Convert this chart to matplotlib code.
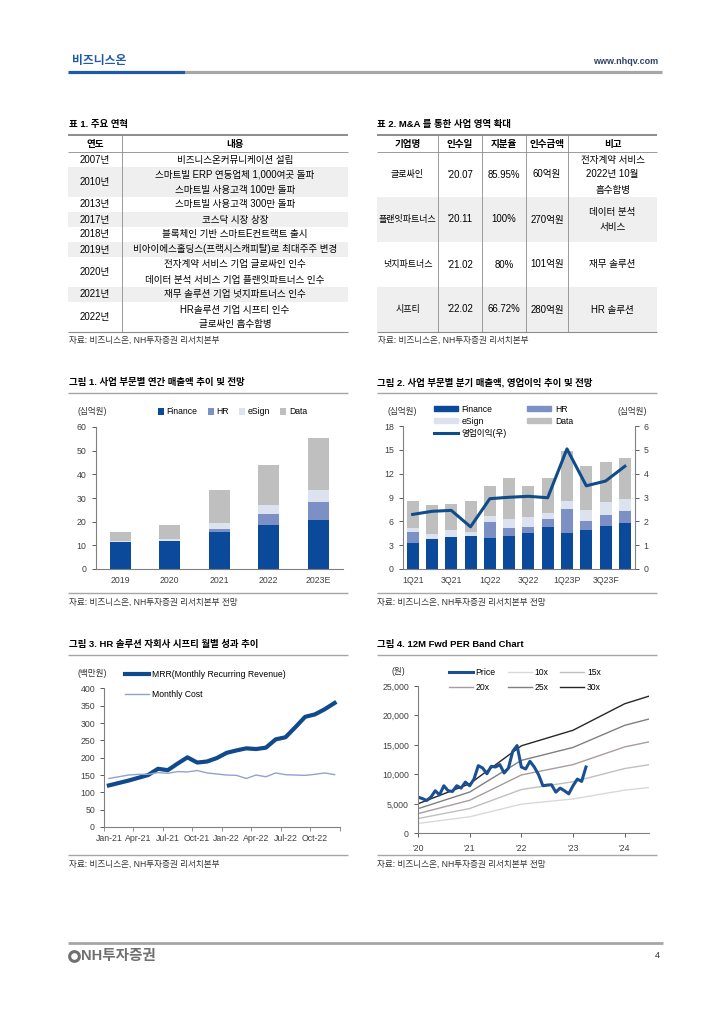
import numpy as np
import matplotlib
matplotlib.use('Agg')
import matplotlib.pyplot as plt
from matplotlib.patches import Rectangle, Patch
from matplotlib.lines import Line2D
from matplotlib.ticker import FuncFormatter

plt.rcParams['font.family'] = ['Liberation Sans', 'Noto Sans CJK KR']
plt.rcParams['axes.unicode_minus'] = False

W, H = 724, 1024

# ---- table 1: history ----
hist_years = ['2007년', '2010년', '2013년', '2017년', '2018년', '2019년', '2020년', '2021년', '2022년']
hist_events = ['비즈니스온커뮤니케이션 설립',
               '스마트빌 ERP 연동업체 1,000여곳 돌파\n스마트빌 사용고객 100만 돌파',
               '스마트빌 사용고객 300만 돌파',
               '코스닥 시장 상장',
               '블록체인 기반 스마트E컨트랙트 출시',
               '비아이에스홀딩스(프랙시스캐피탈)로 최대주주 변경',
               '전자계약 서비스 기업 글로싸인 인수\n데이터 분석 서비스 기업 플랜잇파트너스 인수',
               '재무 솔루션 기업 넛지파트너스 인수',
               'HR솔루션 기업 시프티 인수\n글로싸인 흡수합병']

# ---- table 2: M&A ----
ma_cols = ['기업명', '인수일', '지분율', '인수금액', '비고']
ma_company = ['글로싸인', '플랜잇파트너스', '넛지파트너스', '시프티']
ma_date = ["'20.07", "'20.11", "'21.02", "'22.02"]
ma_share = ['85.95%', '100%', '80%', '66.72%']
ma_price = ['60억원', '270억원', '101억원', '280억원']
ma_note = ['전자계약 서비스\n2022년 10월\n흡수합병', '데이터 분석\n서비스', '재무 솔루션', 'HR 솔루션']

# ---- fig 1: annual sales by segment (십억원) ----
yr_labels = ['2019', '2020', '2021', '2022', '2023E']
yr_finance = [11.2, 11.9, 15.8, 18.4, 20.9]
yr_hr = [0.0, 0.0, 1.2, 4.7, 7.3]
yr_esign = [0.5, 0.9, 2.5, 4.0, 5.2]
yr_data = [3.9, 5.7, 14.0, 16.8, 22.1]

# ---- fig 2: quarterly sales and operating profit ----
q_labels = ['1Q21', '2Q21', '3Q21', '4Q21', '1Q22', '2Q22', '3Q22', '4Q22',
            '1Q23P', '2Q23F', '3Q23F', '4Q23F']
q_finance = [3.3, 3.8, 4.0, 4.2, 3.9, 4.2, 4.5, 5.3, 4.5, 4.9, 5.4, 5.8]
q_hr = [1.4, 0.0, 0.0, 0.0, 2.0, 0.9, 0.8, 1.0, 3.1, 1.2, 1.4, 1.5]
q_esign = [0.4, 0.6, 0.9, 0.5, 0.8, 1.2, 1.2, 0.8, 0.9, 1.3, 1.6, 1.5]
q_data = [3.5, 3.6, 3.3, 3.8, 3.8, 5.1, 3.9, 4.3, 6.4, 5.6, 5.1, 5.2]
q_op = [2.29, 2.42, 2.46, 1.77, 2.95, 3.01, 3.05, 2.99, 5.04, 3.49, 3.69, 4.31]

# ---- fig 3: Shiftee monthly MRR / cost (백만원) ----
m_labels = ['Jan-21', 'Feb-21', 'Mar-21', 'Apr-21', 'May-21', 'Jun-21', 'Jul-21', 'Aug-21',
            'Sep-21', 'Oct-21', 'Nov-21', 'Dec-21', 'Jan-22', 'Feb-22', 'Mar-22', 'Apr-22',
            'May-22', 'Jun-22', 'Jul-22', 'Aug-22', 'Sep-22', 'Oct-22', 'Nov-22', 'Dec-22']
mrr = [120, 127, 134, 142, 150, 168, 164, 183, 201, 186, 189, 199,
       214, 221, 227, 225, 229, 253, 259, 288, 318, 325, 340, 358]
m_cost = [140, 145, 150, 152, 152, 157, 155, 160, 159, 163, 156, 153,
          150, 149, 140, 150, 145, 156, 151, 150, 149, 152, 156, 151]

# ---- fig 4: 12M fwd PER band (원) ----
price = [6140, 5900, 5570, 6140, 7220, 6530, 8070, 7220, 7100, 8070, 7670, 8690,
         8070, 9200, 11480, 11080, 10110, 11360, 11250, 11650, 10230, 11080, 13920, 14890,
         11250, 10910, 12220, 11250, 9940, 8070, 8180, 8240, 6990, 7670, 7220, 6700,
         8070, 9200, 8810, 11250]
band_x = [2020.0, 2021.0, 2022.0, 2023.0, 2024.0, 2024.46]
band_eps = [167, 280, 495, 583, 733, 775]
band_mult = [10, 15, 20, 25, 30]
year_labels = ["'20", "'21", "'22", "'23", "'24"]

c_fin = '#0b4a9b'
c_hr = '#7c90c6'
c_esign = '#dde3ee'
c_data = '#bfbfbf'
c_line = '#8c8c8c'
c_tick = '#404040'

fig = plt.figure(figsize=(7.24, 10.24), dpi=100)
page = fig.add_axes([0, 0, 1, 1])
page.set_xlim(0, W)
page.set_ylim(H, 0)
page.axis('off')


def px_axes(l, t, r, b):
    return fig.add_axes([l / W, 1 - b / H, (r - l) / W, (b - t) / H])


def hline(y, x0, x1, lw=0.8, color=c_line):
    page.plot([x0, x1], [y, y], color=color, lw=lw, solid_capstyle='butt')


def style_ax(ax):
    for s in ['top', 'right']:
        ax.spines[s].set_visible(False)
    for s in ['left', 'bottom']:
        ax.spines[s].set_color('#808080')
        ax.spines[s].set_linewidth(0.8)
    ax.tick_params(labelsize=6.3, colors=c_tick, length=3, width=0.6)
    ax.set_facecolor('none')


# header
page.text(72, 61, '비즈니스온', color='#1f5aa6', fontsize=8.5, fontweight='bold', va='center')
hline(71.5, 68, 185, lw=2.3, color='#1f5aa6')
hline(71.5, 185, 662, lw=2.3, color='#a6a6a6')
page.text(658, 61, 'www.nhqv.com', ha='right', va='center', fontsize=6.5,
          fontweight='bold', color='#2d4466')

# footer
hline(943, 68, 663, lw=2, color='#a6a6a6')
page.plot(74, 956, marker='o', ms=7, mfc='none', mec='#707070', mew=2.2)
page.text(81, 956, 'NH투자증권', fontsize=10.5, fontweight='bold', color='#707070', va='center')
page.text(655, 956, '4', fontsize=6.5, va='center', color='#333333')

tfs = 6.9
sfs = 6.2
src = '자료: 비즈니스온, NH투자증권 리서치본부'

# table 1
page.text(69, 124, '표 1. 주요 연혁', fontsize=6.8, fontweight='bold', va='center')
page.text(95, 143.5, '연도', fontsize=tfs, fontweight='bold', ha='center', va='center')
page.text(235, 143.5, '내용', fontsize=tfs, fontweight='bold', ha='center', va='center')
y = 152
for i, (yr, ev) in enumerate(zip(hist_years, hist_events)):
    lines = ev.split('\n')
    h = 15 * len(lines)
    if i % 2 == 1:
        page.add_patch(Rectangle((68, y), 280, h, color='#efefef', lw=0))
    page.text(95, y + h / 2, yr, fontsize=tfs, ha='center', va='center')
    for k, ln in enumerate(lines):
        page.text(235, y + 7.5 + 15 * k, ln, fontsize=tfs, ha='center', va='center')
    y += h
hline(135, 68, 348, lw=1.4)
hline(152, 68, 348, lw=0.6)
hline(y, 68, 348, lw=0.8)
page.plot([122, 122], [135, y], color=c_line, lw=0.6)
page.text(69, 340, src, fontsize=sfs, va='center', color='#333333')

# table 2
page.text(377, 124, '표 2. M&A 를 통한 사업 영역 확대', fontsize=6.8, fontweight='bold', va='center')
col_x = [377, 438, 482, 526, 568, 657]
col_c = [(a + b) / 2 for a, b in zip(col_x[:-1], col_x[1:])]
for c, name in zip(col_c, ma_cols):
    page.text(c, 143.5, name, fontsize=tfs, fontweight='bold', ha='center', va='center')
y = 152
for i in range(len(ma_company)):
    h = 45
    if i % 2 == 1:
        page.add_patch(Rectangle((377, y), 280, h, color='#efefef', lw=0))
    vals = [ma_company[i], ma_date[i], ma_share[i], ma_price[i]]
    for j, (c, v) in enumerate(zip(col_c, vals)):
        page.text(c, y + h / 2, v, fontsize=6.5 if j == 0 else tfs, ha='center', va='center')
    lines = ma_note[i].split('\n')
    y0 = y + h / 2 - 7.5 * (len(lines) - 1)
    for k, ln in enumerate(lines):
        page.text(col_c[4], y0 + 15 * k, ln, fontsize=tfs, ha='center', va='center')
    y += h
hline(135, 377, 657, lw=1.4)
hline(152, 377, 657, lw=0.6)
hline(y, 377, 657, lw=0.8)
for xv in col_x[1:-1]:
    page.plot([xv, xv], [135, y], color=c_line, lw=0.6)
page.text(378, 340, src, fontsize=sfs, va='center', color='#333333')

# chart titles and frames
titles = [(69, 383, 393, 593, 602, '그림 1. 사업 부문별 연간 매출액 추이 및 전망', src + ' 전망', 68, 348),
          (377, 383, 393, 593, 602, '그림 2. 사업 부문별 분기 매출액, 영업이익 추이 및 전망', src + ' 전망', 377, 657),
          (69, 644, 655, 855, 864, '그림 3. HR 솔루션 자회사 시프티 월별 성과 추이', src, 68, 348),
          (377, 644, 655, 855, 864, '그림 4. 12M Fwd PER Band Chart', src + ' 전망', 377, 657)]
for tx, ty, ly, by, sy, t, s, x0, x1 in titles:
    page.text(tx, ty, t, fontsize=6.8, fontweight='bold', va='center')
    hline(ly, x0, x1, lw=1.0, color='#a6a6a6')
    hline(by, x0, x1, lw=1.0, color='#a6a6a6')
    page.text(tx, sy, s, fontsize=sfs, va='center', color='#333333')

# ---- chart 1 ----
ax1 = px_axes(95.6, 427, 343, 569)
x = np.arange(len(yr_labels))
b = np.zeros(len(x))
for vals, col, lab in [(yr_finance, c_fin, 'Finance'), (yr_hr, c_hr, 'HR'),
                       (yr_esign, c_esign, 'eSign'), (yr_data, c_data, 'Data')]:
    ax1.bar(x, vals, 0.42, bottom=b, color=col, label=lab, lw=0)
    b += np.array(vals)
ax1.set_xlim(-0.5, 4.5)
ax1.set_ylim(0, 60)
ax1.set_yticks(range(0, 61, 10))
ax1.set_xticks(x)
ax1.set_xticklabels(yr_labels)
style_ax(ax1)
ax1.tick_params(axis='x', length=0, pad=5)
ax1.legend(ncol=4, loc='center left', bbox_to_anchor=(150 / W, 1 - 412 / H),
           bbox_transform=fig.transFigure, frameon=False, fontsize=6.2,
           handlelength=0.7, handleheight=0.7, handletextpad=0.3, columnspacing=1.2)
page.text(78, 412, '(십억원)', fontsize=6.2, va='center', color='#333333')

# ---- chart 2 ----
ax2 = px_axes(403, 426, 634.5, 569)
x = np.arange(len(q_labels))
b = np.zeros(len(x))
for vals, col in [(q_finance, c_fin), (q_hr, c_hr), (q_esign, c_esign), (q_data, c_data)]:
    ax2.bar(x, vals, 0.62, bottom=b, color=col, lw=0)
    b += np.array(vals)
ax2.set_xlim(-0.5, len(x) - 0.5)
ax2.set_ylim(0, 18)
ax2.set_yticks(range(0, 19, 3))
ax2.set_xticks(x[::2])
ax2.set_xticklabels(q_labels[::2])
style_ax(ax2)
ax2.tick_params(axis='x', length=0, pad=5)
ax2r = ax2.twinx()
ax2r.plot(x, q_op, color='#0f4c8c', lw=2.2)
ax2r.set_ylim(0, 6)
ax2r.set_yticks(range(0, 7))
ax2r.spines['top'].set_visible(False)
ax2r.spines['left'].set_visible(False)
ax2r.spines['bottom'].set_visible(False)
ax2r.spines['right'].set_color('#808080')
ax2r.spines['right'].set_linewidth(0.8)
ax2r.tick_params(labelsize=6.3, colors=c_tick, length=3, width=0.6)
h2 = [Patch(color=c_fin), Patch(color=c_esign), Line2D([], [], color='#0f4c8c', lw=2.2),
      Patch(color=c_hr), Patch(color=c_data)]
l2 = ['Finance', 'eSign', '영업이익(우)', 'HR', 'Data']
ax2.legend(h2, l2, ncol=2, loc='upper left', bbox_to_anchor=(426 / W, 1 - 397 / H),
           bbox_transform=fig.transFigure, frameon=False, fontsize=6.2,
           handlelength=2.8, handleheight=0.5, handletextpad=0.4, columnspacing=2.4,
           labelspacing=0.35)
page.text(387, 411, '(십억원)', fontsize=6.2, va='center', color='#333333')
page.text(647, 411, '(십억원)', fontsize=6.2, va='center', ha='right', color='#333333')

# ---- chart 3 ----
ax3 = px_axes(104, 688.4, 339.5, 827)
x = np.arange(len(m_labels))
ax3.plot(x, mrr, color='#104a8c', lw=3, label='MRR(Monthly Recurring Revenue)')
ax3.plot(x, m_cost, color='#8fa3cc', lw=1, label='Monthly Cost')
ax3.set_xlim(-0.5, len(x) - 0.5)
ax3.set_ylim(0, 400)
ax3.set_yticks(range(0, 401, 50))
ax3.set_xticks(x[::3])
ax3.set_xticklabels(m_labels[::3])
ax3.set_xticks(np.arange(-0.5, len(x), 3), minor=True)
style_ax(ax3)
ax3.tick_params(axis='x', which='major', length=0, pad=5)
ax3.tick_params(axis='x', which='minor', length=3, width=0.6, colors='#808080')
ax3.legend(loc='upper left', bbox_to_anchor=(117 / W, 1 - 662 / H),
           bbox_transform=fig.transFigure, frameon=False, fontsize=6.2,
           handlelength=2.8, handletextpad=0.4, labelspacing=1.3)
page.text(78, 673, '(백만원)', fontsize=6.2, va='center', color='#333333')

# ---- chart 4 ----
ax4 = px_axes(418, 686, 648.5, 833.3)
px = 2020 + np.arange(len(price)) / 12
band_cols = ['#d9d9d9', '#bfbfbf', '#a89c9c', '#7f7f7f', '#262626']
bl = {}
for m, col in zip(band_mult, band_cols):
    bl[m], = ax4.plot(band_x, np.array(band_eps) * m, color=col, lw=1.0, label=f'{m}x')
pl, = ax4.plot(px, price, color='#1b4f93', lw=2.2, label='Price')
ax4.set_xlim(2020, 2024.46)
ax4.set_ylim(0, 25000)
ax4.set_yticks(range(0, 25001, 5000))
ax4.yaxis.set_major_formatter(FuncFormatter(lambda v, p: f'{int(v):,}'))
ax4.set_xticks([2020, 2021, 2022, 2023, 2024])
ax4.set_xticklabels(year_labels)
style_ax(ax4)
ax4.tick_params(axis='x', pad=5)
ax4.legend([pl, bl[20], bl[10], bl[25], bl[15], bl[30]],
           ['Price', '20x', '10x', '25x', '15x', '30x'], ncol=3, loc='upper left',
           bbox_to_anchor=(441 / W, 1 - 660 / H), bbox_transform=fig.transFigure,
           frameon=False, fontsize=6.2, handlelength=2.8, handletextpad=0.3,
           columnspacing=1.4, labelspacing=0.7)
page.text(391, 672, '(원)', fontsize=6.2, va='center', color='#333333')

fig.savefig('out.png', dpi=100)
